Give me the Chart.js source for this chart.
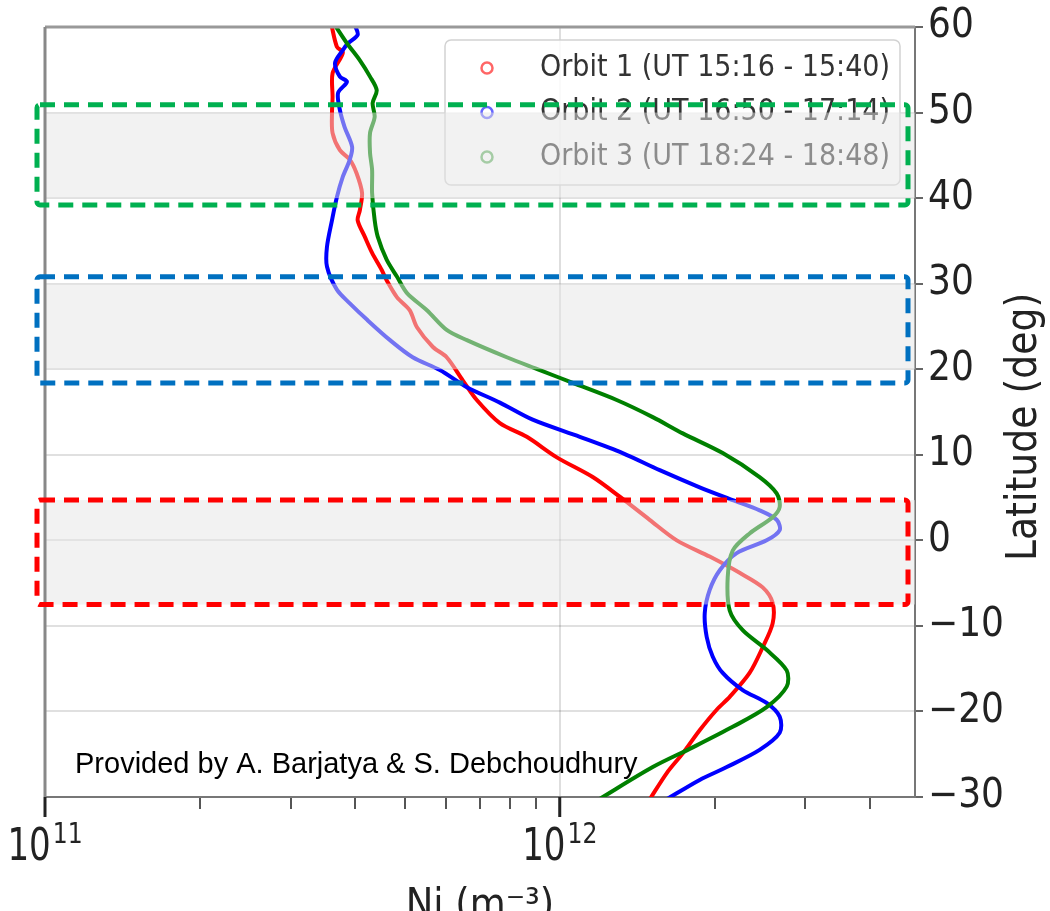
<!DOCTYPE html>
<html>
<head>
<meta charset="utf-8">
<script src="https://cdn.jsdelivr.net/npm/chart.js@4.4.1/dist/chart.umd.min.js"></script>
<style>
  html, body { margin: 0; padding: 0; background: #fff; }
  canvas { display: block; }
</style>
</head>
<body>
<canvas id="niChart" width="1050" height="911"></canvas>
<script>
// Profils de densité ionique (Ni) en fonction de la latitude, un couple de tableaux par orbite
const orbitLabels = ['Orbit 1 (UT 15:16 - 15:40)', 'Orbit 2 (UT 16:50 - 17:14)', 'Orbit 3 (UT 18:24 - 18:48)'];

const orbit1Lat = [60.3, 57.7, 57.0, 54.6, 51.8, 49.9, 47.6, 45.6, 44.5, 42.9,
  40.6, 38.6, 37.4, 35.5, 33.6, 31.6, 30.4, 28.4, 26.9, 24.9,
  22.6, 21.4, 18.7, 16.4, 13.7, 12.1, 9.7, 7.4, 5.1, 2.4,
  0.0, -1.9, -3.8, -5.5, -7.3, -9.7, -12.5, -15.5, -18.3, -19.8,
  -22.2, -24.9, -27.2, -30.3];
const orbit1Ni = [3.60e11, 3.69e11, 3.79e11, 3.62e11, 3.62e11, 3.61e11, 3.62e11, 3.74e11, 3.91e11, 4.03e11,
  4.13e11, 4.09e11, 4.05e11, 4.18e11, 4.32e11, 4.51e11, 4.61e11, 4.83e11, 5.11e11, 5.28e11,
  5.67e11, 6.03e11, 6.48e11, 6.90e11, 7.65e11, 8.63e11, 9.87e11, 1.159e12, 1.308e12, 1.495e12,
  1.688e12, 1.956e12, 2.236e12, 2.479e12, 2.592e12, 2.592e12, 2.479e12, 2.338e12, 2.139e12, 2.018e12,
  1.870e12, 1.734e12, 1.614e12, 1.495e12];

const orbit2Lat = [60.2, 59.1, 58.1, 57.3, 55.8, 54.2, 53.6, 52.3, 50.3, 48.3,
  46.0, 44.5, 42.5, 40.1, 37.4, 34.3, 32.0, 29.3, 27.7, 25.8,
  23.4, 21.4, 19.9, 17.9, 16.1, 14.1, 12.1, 10.2, 8.2, 6.2,
  4.7, 3.5, 2.4, 1.2, 0.0, -1.5, -3.5, -5.8, -8.5, -11.3,
  -13.6, -15.5, -17.5, -19.0, -20.6, -22.5, -24.5, -26.5, -28.0, -30.3];
const orbit2Ni = [4.00e11, 4.05e11, 3.88e11, 3.79e11, 3.66e11, 3.74e11, 3.86e11, 3.71e11, 3.74e11, 3.82e11,
  3.95e11, 3.91e11, 3.79e11, 3.69e11, 3.61e11, 3.53e11, 3.53e11, 3.69e11, 3.91e11, 4.22e11,
  4.68e11, 5.18e11, 5.85e11, 6.60e11, 7.65e11, 8.86e11, 1.094e12, 1.325e12, 1.564e12, 1.870e12,
  2.168e12, 2.445e12, 2.639e12, 2.675e12, 2.523e12, 2.207e12, 2.046e12, 1.956e12, 1.913e12, 1.930e12,
  1.983e12, 2.073e12, 2.267e12, 2.523e12, 2.675e12, 2.675e12, 2.445e12, 2.111e12, 1.870e12, 1.610e12];

const orbit3Lat = [60.3, 58.1, 56.1, 54.2, 52.6, 51.1, 49.5, 47.6, 45.3, 43.3,
  40.6, 37.4, 35.5, 32.8, 30.8, 28.9, 26.9, 24.6, 23.4, 21.4,
  19.9, 18.4, 16.4, 14.4, 12.5, 10.2, 7.4, 5.5, 3.9, 2.7,
  0.8, -1.2, -4.3, -8.2, -10.5, -12.8, -15.2, -17.1, -19.5, -21.8,
  -24.2, -26.5, -30.3];
const orbit3Ni = [3.65e11, 3.86e11, 4.09e11, 4.28e11, 4.41e11, 4.33e11, 4.37e11, 4.28e11, 4.28e11, 4.32e11,
  4.32e11, 4.37e11, 4.43e11, 4.61e11, 4.83e11, 5.05e11, 5.52e11, 6.03e11, 6.60e11, 7.89e11,
  9.15e11, 1.060e12, 1.290e12, 1.516e12, 1.734e12, 2.073e12, 2.445e12, 2.639e12, 2.675e12, 2.592e12,
  2.338e12, 2.168e12, 2.120e12, 2.139e12, 2.267e12, 2.523e12, 2.760e12, 2.760e12, 2.523e12, 2.168e12,
  1.813e12, 1.516e12, 1.190e12];

// Graduations
const latTicks = [-30, -20, -10, 0, 10, 20, 30, 40, 50, 60];
const niTicks = [1e11, 2e11, 3e11, 4e11, 5e11, 6e11, 7e11, 8e11, 9e11, 1e12, 2e12, 3e12, 4e12];
const niTickLabels = ['10^11', '', '', '', '', '', '', '', '', '10^12', '', '', ''];

// Zones grisées et cadres pointillés (en latitude)
const shadedBands = [[40, 50], [20, 30], [-7.5, 4.7]];
const boxLatRanges = [[39.2, 50.9], [18.4, 30.8], [-7.5, 4.7]];
const boxColors = ['#00b050', '#0070c0', '#ff0000'];

const orbitRgb = ['255,0,0', '0,0,255', '0,128,0'];

const axisFont = "'DejaVu Sans Condensed', 'DejaVu Sans', sans-serif";

function toPoints(niArr, latArr) {
    return niArr.map((v, i) => ({ x: v, y: latArr[i] }));
}

// étiquettes 10^n avec exposant, comme matplotlib
function drawPowerLabels(chart) {
    const { ctx, chartArea: a, scales: { x } } = chart;
    ctx.save();
    niTicks.forEach((v, i) => {
        const lab = niTickLabels[i];
        if (!lab) return;
        const px = x.getPixelForValue(v);
        ctx.strokeStyle = '#222';
        ctx.lineWidth = 3;
        ctx.beginPath();
        ctx.moveTo(px, a.bottom);
        ctx.lineTo(px, a.bottom + 20);
        ctx.stroke();

        const [base, exp] = lab.split('^');
        ctx.font = '44px ' + axisFont;
        const wBase = ctx.measureText(base).width * 0.86;
        ctx.font = '29px ' + axisFont;
        const wExp = ctx.measureText(exp).width * 0.9;
        const start = px - (wBase + 2 + wExp) / 2;
        ctx.fillStyle = '#222';
        ctx.textBaseline = 'alphabetic';
        ctx.save();
        ctx.translate(start, a.bottom + 63);
        ctx.scale(0.86, 1);
        ctx.font = '44px ' + axisFont;
        ctx.fillText(base, 0, 0);
        ctx.restore();
        ctx.save();
        ctx.translate(start + wBase + 2, a.bottom + 46);
        ctx.scale(0.9, 1);
        ctx.font = '29px ' + axisFont;
        ctx.fillText(exp, 0, 0);
        ctx.restore();
    });
    ctx.restore();
}

const overlayPlugin = {
    id: 'overlay',
    afterDatasetsDraw(chart) {
        const { ctx, chartArea: a, scales: { y } } = chart;
        ctx.save();

        // légende (dessinée avant les zones grisées, qui l'estompent)
        const bx = a.left + 400, by = a.top + 13, bw = a.right - 15 - bx, bh = 145;
        ctx.beginPath();
        ctx.roundRect(bx, by, bw, bh, 6);
        ctx.fillStyle = 'rgba(255,255,255,0.85)';
        ctx.fill();
        ctx.strokeStyle = 'rgba(205,205,205,0.9)';
        ctx.lineWidth = 1.5;
        ctx.stroke();
        ctx.font = '30px ' + axisFont;
        ctx.textBaseline = 'middle';
        chart.data.datasets.forEach((ds, i) => {
            const rowY = by + 28 + i * 44.5;
            ctx.beginPath();
            ctx.arc(bx + 42, rowY, 5.5, 0, Math.PI * 2);
            ctx.strokeStyle = 'rgba(' + orbitRgb[i] + ',0.6)';
            ctx.lineWidth = 2.5;
            ctx.stroke();
            ctx.fillStyle = '#333';
            const w = ctx.measureText(ds.label).width;
            const sx = Math.min(1, 350 / w);
            ctx.save();
            ctx.translate(bx + 95, rowY);
            ctx.scale(sx, 1);
            ctx.fillText(ds.label, 0, 0);
            ctx.restore();
        });

        // zones grisées par-dessus les courbes
        ctx.fillStyle = 'rgba(230,230,230,0.5)';
        shadedBands.forEach(([lo, hi]) => {
            const t = y.getPixelForValue(hi), b = y.getPixelForValue(lo);
            ctx.fillRect(a.left, t, a.right - a.left, b - t);
        });

        // cadre haut et gauche
        ctx.lineWidth = 3;
        ctx.strokeStyle = '#999';
        ctx.beginPath();
        ctx.moveTo(a.left, a.top);
        ctx.lineTo(a.right, a.top);
        ctx.stroke();
        ctx.strokeStyle = '#888';
        ctx.beginPath();
        ctx.moveTo(a.left, a.top);
        ctx.lineTo(a.left, a.bottom);
        ctx.stroke();

        // cadres pointillés
        ctx.lineWidth = 5;
        ctx.setLineDash([15, 9]);
        boxLatRanges.forEach(([lo, hi], i) => {
            const t = y.getPixelForValue(hi), b = y.getPixelForValue(lo);
            ctx.strokeStyle = boxColors[i];
            ctx.beginPath();
            ctx.roundRect(a.left - 8, t, a.right - a.left + 1, b - t, 3);
            ctx.stroke();
        });
        ctx.setLineDash([]);

        // mention
        ctx.fillStyle = '#000';
        ctx.font = "29px 'Liberation Sans', Arial, sans-serif";
        ctx.textBaseline = 'alphabetic';
        ctx.fillText('Provided by A. Barjatya & S. Debchoudhury', a.left + 30, a.bottom - 24);

        // titre de l'axe des latitudes (lu de bas en haut)
        ctx.save();
        ctx.translate(chart.width - 25, (a.top + a.bottom) / 2 + 15);
        ctx.rotate(-Math.PI / 2);
        ctx.font = '42px ' + axisFont;
        ctx.fillStyle = '#222';
        ctx.textAlign = 'center';
        ctx.textBaseline = 'middle';
        ctx.fillText('Latitude (deg)', 0, 0);
        ctx.restore();

        ctx.restore();

        drawPowerLabels(chart);
    }
};

const niChart = new Chart(document.getElementById('niChart'), {
    type: 'scatter',
    data: {
        datasets: [
            { label: orbitLabels[0], data: toPoints(orbit1Ni, orbit1Lat), borderColor: 'rgb(255,0,0)', order: 3 },
            { label: orbitLabels[1], data: toPoints(orbit2Ni, orbit2Lat), borderColor: 'rgb(0,0,255)', order: 2 },
            { label: orbitLabels[2], data: toPoints(orbit3Ni, orbit3Lat), borderColor: 'rgb(0,128,0)', order: 1 }
        ]
    },
    options: {
        responsive: false,
        animation: false,
        showLine: true,
        layout: { padding: { top: 27, left: 45, right: 0, bottom: 0 } },
        elements: {
            point: { radius: 0 },
            line: { borderWidth: 4, tension: 0.3, fill: false }
        },
        plugins: {
            legend: { display: false },
            tooltip: { enabled: false }
        },
        scales: {
            x: {
                type: 'logarithmic',
                position: 'bottom',
                min: 1e11,
                max: 4.9e12,
                afterBuildTicks: s => { s.ticks = niTicks.map(v => ({ value: v })); },
                afterFit: s => { s.height = 114; s.paddingLeft = 0; s.paddingRight = 0; },
                ticks: { display: false, autoSkip: false },
                grid: {
                    color: c => (c.tick && c.tick.value === 1e12) ? 'rgba(0,0,0,0.13)' : 'rgba(0,0,0,0)',
                    lineWidth: 2,
                    tickColor: '#555',
                    tickLength: 12,
                    tickWidth: 2
                },
                border: { color: '#777', width: 2 },
                title: {
                    display: true,
                    text: 'Ni (m⁻³)',
                    color: '#222',
                    font: { family: axisFont, size: 41 },
                    padding: { top: 0, bottom: -20 }
                }
            },
            y: {
                type: 'linear',
                position: 'right',
                min: -30,
                max: 60,
                afterBuildTicks: s => { s.ticks = latTicks.map(v => ({ value: v })); },
                afterFit: s => { s.width = 135; s.paddingTop = 0; s.paddingBottom = 0; },
                ticks: {
                    padding: 5,
                    color: '#222',
                    font: { family: axisFont, size: 40 },
                    callback: v => v < 0 ? '\u2212' + Math.abs(v) : String(v)
                },
                grid: {
                    color: 'rgba(0,0,0,0.12)',
                    lineWidth: 2,
                    tickColor: '#666',
                    tickLength: 8,
                    tickWidth: 2
                },
                border: { color: '#777', width: 2 }
            }
        }
    },
    plugins: [overlayPlugin]
});
</script>
</body>
</html>
